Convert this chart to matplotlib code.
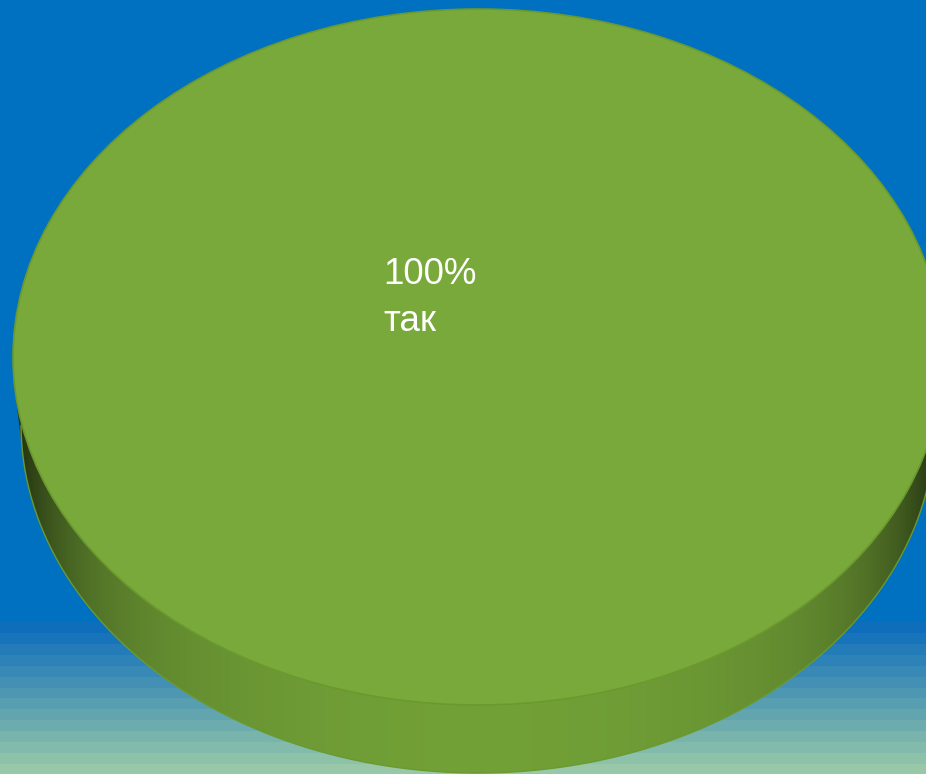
import numpy as np
import matplotlib
matplotlib.use("Agg")
import matplotlib.pyplot as plt
from matplotlib.patches import Polygon

# ---- data ----
labels = ["так"]
values = [100]
colors = ["#78a93a"]

# ---- layout (pixels) ----
W, H = 926, 774
cx, cy, a, b = 478, 357, 465, 348          # top face
cx2, cy2, a2, b2 = 478, 424, 457, 349      # bottom face (perspective)

fig = plt.figure(figsize=(W / 100, H / 100), dpi=100)
ax = fig.add_axes([0, 0, 1, 1])

xlim = (-cx / a, (W - cx) / a)
ylim = ((cy - H) / b, cy / b)

# background: solid blue top, banded gradient at bottom
bg_top = np.array([0, 112, 192]) / 255
band_start = np.array([14, 110, 188]) / 255
band_end = np.array([152, 200, 168]) / 255
nb = 14
band_y0 = 622
rows = np.zeros((H, 1, 3))
for py in range(H):
    if py < band_y0:
        rows[py, 0] = bg_top
    else:
        k = min(nb - 1, int((py - band_y0) / ((H - band_y0) / nb)))
        t = k / (nb - 1)
        rows[py, 0] = band_start * (1 - t) + band_end * t
ax.imshow(rows, extent=[xlim[0], xlim[1], ylim[0], ylim[1]], aspect="auto",
          zorder=0, interpolation="nearest")

# pie top
wedges, texts = ax.pie(values, colors=colors, startangle=90, counterclock=False,
                       radius=1.0,
                       wedgeprops=dict(edgecolor="#6a9a2e", linewidth=1.2, zorder=3))


def hull(pts):
    pts = sorted(map(tuple, pts))
    def cross(o, p, q):
        return (p[0] - o[0]) * (q[1] - o[1]) - (p[1] - o[1]) * (q[0] - o[0])
    lower, upper = [], []
    for p in pts:
        while len(lower) >= 2 and cross(lower[-2], lower[-1], p) <= 0:
            lower.pop()
        lower.append(p)
    for p in reversed(pts):
        while len(upper) >= 2 and cross(upper[-2], upper[-1], p) <= 0:
            upper.pop()
        upper.append(p)
    return np.array(lower[:-1] + upper[:-1])


# side of the 3D pie (bottom face in data units)
bx0 = (cx2 - cx) / a
by0 = (cy - cy2) / b
bsx, bsy = a2 / a, b2 / b
t = np.linspace(0, 2 * np.pi, 720)
top_pts = np.column_stack([np.cos(t), np.sin(t)])
bot_pts = np.column_stack([bx0 + bsx * np.cos(t), by0 + bsy * np.sin(t)])
side_poly = Polygon(hull(np.vstack([top_pts, bot_pts])), closed=True,
                    facecolor="none", edgecolor="none")
ax.add_patch(side_poly)
base = np.array(matplotlib.colors.to_rgb(colors[0]))
xs = np.linspace(-1, 1, 600)
fac = 0.95 - 0.25 * xs ** 2 - 0.45 * np.abs(xs) ** 8
fac = np.clip(fac, 0.2, 1)
side_img = (base[None, :] * fac[:, None])[None, :, :]
im = ax.imshow(side_img, extent=[-1, 1, by0 - bsy - 0.01, 0.5], aspect="auto",
               zorder=2, interpolation="bilinear")
im.set_clip_path(side_poly)
low = t > np.pi
ax.plot(bot_pts[low, 0], bot_pts[low, 1], color="#6a9a2e", lw=1, zorder=2.5)

# label
lab_x = (383 - cx) / a
lab_y = (cy - 257) / b
ax.text(lab_x, lab_y, f"{values[0]}%\n{labels[0]}", color="white",
        fontsize=26.5, family="Liberation Sans", ha="left", va="top",
        linespacing=1.45, zorder=5)

ax.set_xlim(*xlim)
ax.set_ylim(*ylim)
ax.set_aspect("auto")
ax.axis("off")

fig.savefig("out.png", dpi=100)
